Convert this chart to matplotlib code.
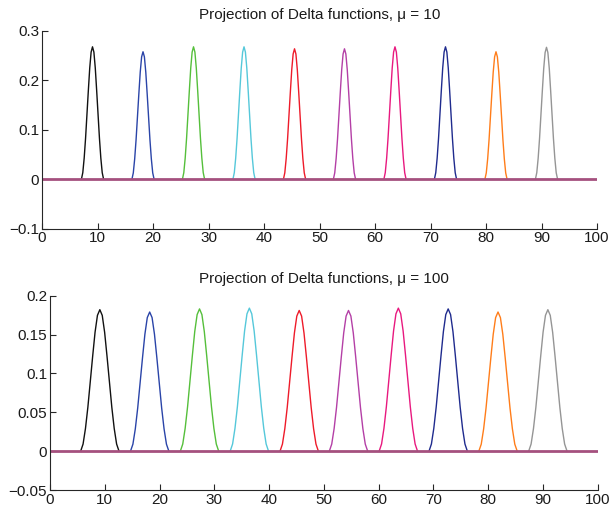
import matplotlib
matplotlib.use("Agg")
import matplotlib.pyplot as plt
import numpy as np

plt.rcParams['font.family'] = ['Liberation Sans', 'DejaVu Sans']
plt.rcParams['font.size'] = 10

# peak centres (shared by both panels)
centers = [9.1, 18.2, 27.3, 36.4, 45.5, 54.5, 63.6, 72.7, 81.8, 90.9]
# peak heights for each smoothing level
heights_mu10 = [0.268, 0.258, 0.268, 0.268, 0.264, 0.264, 0.268, 0.268, 0.258, 0.267]
heights_mu100 = [0.182, 0.179, 0.183, 0.184, 0.181, 0.181, 0.184, 0.183, 0.179, 0.182]
# half support of each bump
halfwidth_mu10 = 2.0
halfwidth_mu100 = 3.5
# normalised bump profile, offset in units of half support
profile_t = [-1.0, -0.875, -0.75, -0.625, -0.5, -0.375, -0.25, -0.125, 0.0,
             0.125, 0.25, 0.375, 0.5, 0.625, 0.75, 0.875, 1.0]
profile_v = [0.0, 0.05, 0.16, 0.31, 0.49, 0.67, 0.84, 0.96, 1.0,
             0.96, 0.84, 0.67, 0.49, 0.31, 0.16, 0.05, 0.0]

colors = ['#111111', '#2a44a8', '#55bf3b', '#55c8da', '#ee1b2a',
          '#b43fa6', '#e8197f', '#1f2b8e', '#ff7d1a', '#959595']
baseline_color = '#a5507e'

panels = [
    ("Projection of Delta functions, \u03bc = 10", heights_mu10, halfwidth_mu10,
     (-0.1, 0.3), [-0.1, 0, 0.1, 0.2, 0.3], ["\u22120.1", "0", "0.1", "0.2", "0.3"],
     [42 / 610, 1 - 228.7 / 514, 555 / 610, 197.7 / 514]),
    ("Projection of Delta functions, \u03bc = 100", heights_mu100, halfwidth_mu100,
     (-0.05, 0.2), [-0.05, 0, 0.05, 0.1, 0.15, 0.2],
     ["\u22120.05", "0", "0.05", "0.1", "0.15", "0.2"],
     [50 / 610, 1 - 490 / 514, 547.7 / 610, 194.3 / 514]),
]

fig = plt.figure(figsize=(6.1, 5.14), dpi=100)
t = np.array(profile_t)
v = np.array(profile_v)
for title, heights, hw, ylim, yticks, ylabels, rect in panels:
    ax = fig.add_axes(rect)
    for c, h, col in zip(centers, heights, colors):
        ax.plot(c + t * hw, h * v, color=col, lw=1.0)
    ax.plot([0, 100], [0, 0], color=baseline_color, lw=2.0)
    ax.set_xlim(0, 100)
    ax.set_ylim(*ylim)
    ax.set_xticks(np.arange(0, 101, 10))
    ax.set_yticks(yticks)
    ax.set_yticklabels(ylabels)
    ax.spines['top'].set_visible(False)
    ax.spines['right'].set_visible(False)
    for s in ('left', 'bottom'):
        ax.spines[s].set_color('#262626')
        ax.spines[s].set_linewidth(0.8)
    ax.tick_params(direction='in', length=4, width=0.8, color='#262626',
                   labelsize=11, labelcolor='#1a1a1a', pad=2)
    ax.set_title(title, fontsize=11, pad=9, color='#1a1a1a')

fig.savefig("out.png", dpi=100)
